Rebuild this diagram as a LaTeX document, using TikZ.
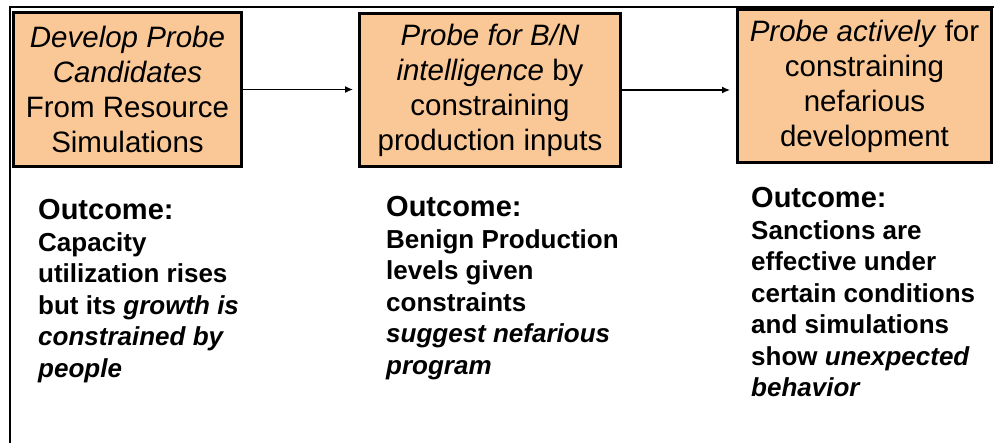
\documentclass[tikz,border=0pt]{standalone}
\usepackage{fontspec}
\setmainfont{Liberation Sans}
\usetikzlibrary{arrows.meta, positioning}
\definecolor{probefill}{RGB}{250,200,150}

\begin{document}
\begin{tikzpicture}[
  x=1pt, y=-1pt,
  probe/.style={rectangle, draw, line width=3pt, fill=probefill,
    align=center, inner sep=0pt, font=\fontsize{29.5}{35}\selectfont},
  outcome/.style={anchor=base west, align=left, inner sep=0pt,
    font=\fontsize{26}{31.5}\selectfont\bfseries},
  head/.style={font=\fontsize{29.5}{31.5}\selectfont},
  link/.style={-{Latex[length=8pt,width=7pt]}, line width=1.3pt}]

  \useasboundingbox (0,0) rectangle (994,443);
  \draw[line width=1.2pt] (10,443) -- (10,7) -- (994,7);

  \node[probe, minimum width=228pt, minimum height=154pt] (develop) at (127.5,89.5)
	{\textit{Develop Probe}\\\textit{Candidates}\\From Resource\\Simulations};
  \node[probe, minimum width=261pt, minimum height=153pt] (intel) at (490,90)
	{\textit{Probe for B/N}\\\textit{intelligence} by\\constraining\\production inputs};
  \node[probe, minimum width=254pt, minimum height=153pt] (active) at (864.5,86)
	{\textit{Probe actively} for\\constraining\\nefarious\\development};

  \draw[link, shorten >=5pt] (develop.east) -- (intel.west |- develop.east);
  \draw[link, shorten >=6pt] (intel.east) -- (active.west |- intel.east);

  % base anchor sits on the last line
  \node[outcome] (capacity) at (38,377.5)
	{{\fontsize{29}{31.5}\selectfont Outcome:}\\Capacity\\utilization rises\\
	 but its \textit{growth is}\\\textit{constrained by}\\\textit{people}};
  \node[outcome] (benign) at (386,374.5)
	{{\fontsize{29}{31.5}\selectfont Outcome:}\\Benign Production\\levels given\\
	 constraints\\\textit{suggest nefarious}\\\textit{program}};
  \node[outcome] (sanctions) at (751,397)
	{{\fontsize{29}{31.5}\selectfont Outcome:}\\Sanctions are\\effective under\\
	 certain conditions\\and simulations\\show \textit{unexpected}\\\textit{behavior}};
\end{tikzpicture}
\end{document}
